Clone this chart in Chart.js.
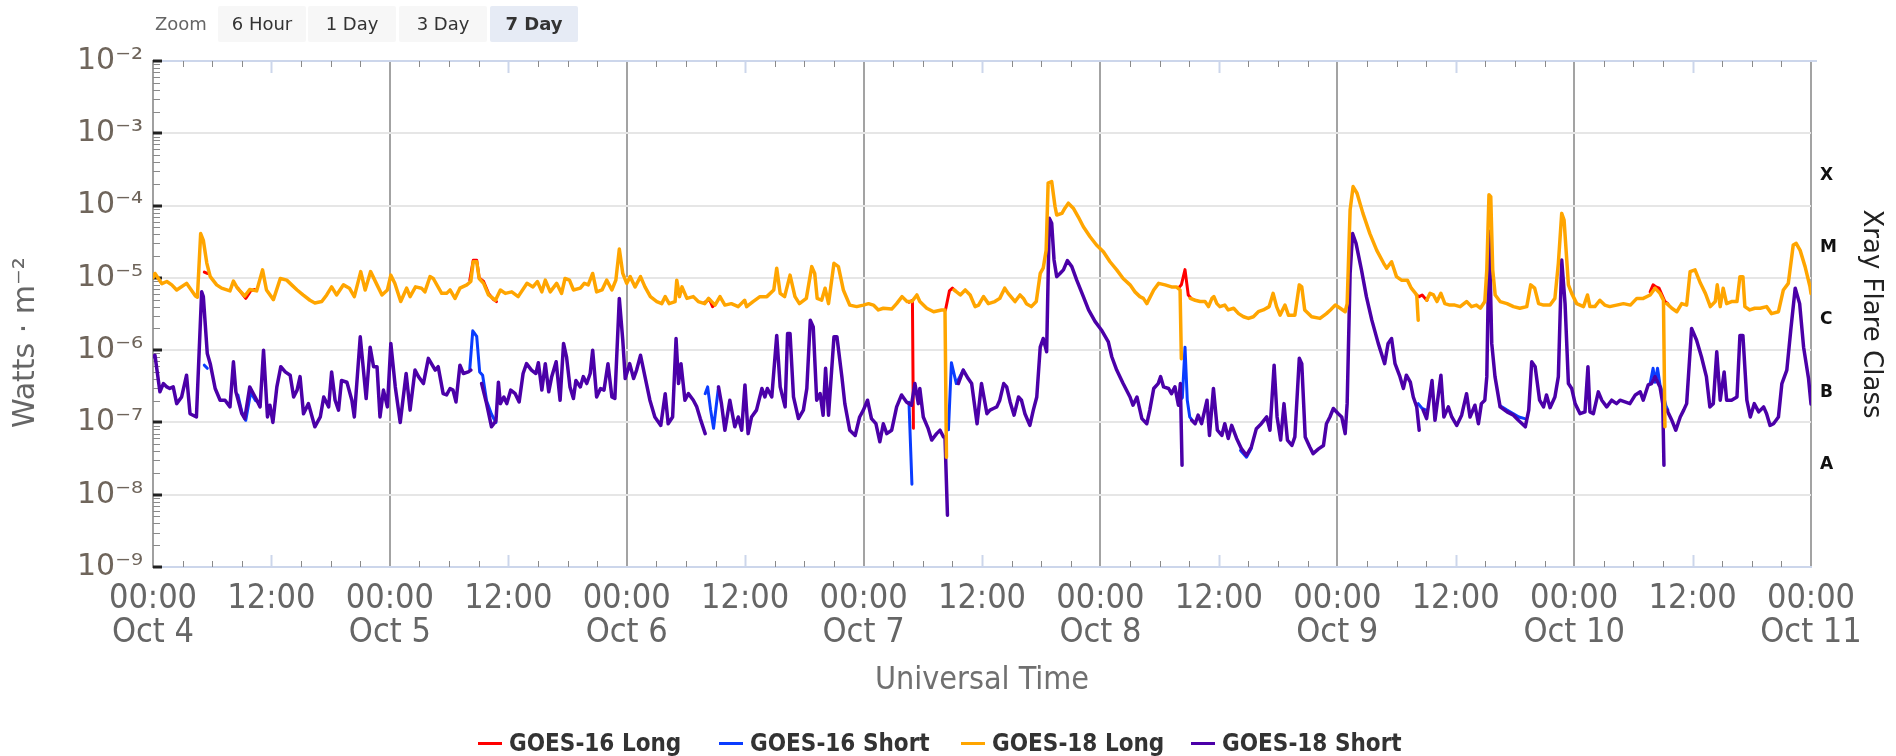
<!DOCTYPE html>
<html>
<head>
<meta charset="utf-8">
<script src="https://cdn.jsdelivr.net/npm/chart.js@4.4.1/dist/chart.umd.min.js"></script>
<style>
html,body{margin:0;padding:0;width:1896px;height:756px;overflow:hidden;background:#fff;}
#wrap{position:absolute;left:0;top:0;width:1896px;height:756px;}
#zoomBar{position:absolute;left:0;top:0;width:700px;height:46px;font-family:'DejaVu Sans',sans-serif;}
#zoomBar .lbl{position:absolute;left:155px;top:6px;height:36px;line-height:36px;font-size:18px;color:#666;}
#zoomBar .btn{position:absolute;top:6px;width:88px;height:36px;line-height:36px;text-align:center;background:#f7f7f7;color:#333;font-size:18px;border-radius:2px;}
#zoomBar .btn.sel{background:#e6ebf5;font-weight:bold;}
#legend{position:absolute;left:0;top:728px;width:1896px;height:30px;font-family:'Liberation Sans Narrow','DejaVu Sans Condensed',sans-serif;font-weight:bold;font-size:24px;color:#333;}
#legend .item{position:absolute;top:0;height:30px;display:flex;align-items:center;white-space:nowrap;}
#legend .sym{display:inline-block;width:24px;height:3px;margin-right:7px;}
</style>
</head>
<body>
<div id="wrap">
<canvas id="c" width="1896" height="756"></canvas>
<div id="zoomBar"></div>
<div id="legend"></div>
</div>
<script>
// ---------- data (hours since Oct 4 00:00 UTC, flux in W/m^2) ----------
const dayLabels = ['Oct 4','Oct 5','Oct 6','Oct 7','Oct 8','Oct 9','Oct 10','Oct 11'];
const zoomButtons = ['6 Hour','1 Day','3 Day','7 Day'];
const selectedZoom = '7 Day';
const flareClasses = ['A','B','C','M','X'];
const flareThresholds = [1e-8,1e-7,1e-6,1e-5,1e-4];
const decadeTicks = [1e-9,1e-8,1e-7,1e-6,1e-5,1e-4,1e-3,1e-2];
const seriesNames = ['GOES-16 Long','GOES-16 Short','GOES-18 Long','GOES-18 Short'];

const goes18Long = [
[0.0,1.0e-5],[0.2,1.15e-5],[0.9,8.3e-6],[1.4,8.9e-6],[1.9,8.0e-6],[2.4,6.8e-6],[3.4,8.4e-6],[4.3,5.6e-6],[4.5,5.4e-6],
[4.83,4.1e-5],[5.1,3.3e-5],[5.45,1.6e-5],[5.8,1.04e-5],[6.45,8.0e-6],[6.95,7.2e-6],[7.8,6.6e-6],[8.15,9.0e-6],[8.55,7.2e-6],
[9.3,5.6e-6],[9.8,6.9e-6],[10.5,6.6e-6],[11.1,1.29e-5],[11.5,6.8e-6],[12.2,5.0e-6],[12.9,9.8e-6],[13.55,9.3e-6],[14.05,8.0e-6],
[14.6,6.8e-6],[15.2,5.8e-6],[15.9,4.9e-6],[16.4,4.5e-6],[17.1,4.7e-6],[17.6,5.8e-6],[18.1,7.5e-6],[18.6,5.8e-6],[19.3,8.0e-6],
[19.9,7.2e-6],[20.4,5.5e-6],[21.05,1.22e-5],[21.5,6.8e-6],[22.05,1.22e-5],[22.7,8.0e-6],[23.2,5.8e-6],[23.75,6.8e-6],[24.1,1.09e-5],
[24.5,8.4e-6],[25.1,4.7e-6],[25.7,7.2e-6],[26.05,5.5e-6],[26.6,7.5e-6],[27.2,7.2e-6],[27.55,6.4e-6],[28.07,1.04e-5],[28.4,9.8e-6],
[29.25,6.1e-6],[29.75,6.1e-6],[30.1,6.8e-6],[30.6,5.2e-6],[31.1,7.2e-6],[31.8,8.0e-6],[32.2,8.9e-6],[32.45,1.67e-5],[32.8,1.67e-5],
[33.05,9.8e-6],[33.5,8.4e-6],[34.0,5.8e-6],[34.7,4.9e-6],[35.2,6.8e-6],[35.7,6.1e-6],[36.35,6.4e-6],[37.0,5.5e-6],[37.9,8.4e-6],
[38.5,7.5e-6],[38.95,8.9e-6],[39.4,6.4e-6],[39.75,9.3e-6],[40.25,6.4e-6],[40.9,8.4e-6],[41.4,6.1e-6],[41.75,9.8e-6],[42.2,9.3e-6],
[42.6,6.8e-6],[43.3,7.2e-6],[43.7,8.4e-6],[44.1,8.0e-6],[44.55,1.15e-5],[44.95,6.4e-6],[45.5,6.8e-6],[45.97,9.3e-6],[46.5,6.8e-6],
[46.9,9.3e-6],[47.25,2.5e-5],[47.6,1.15e-5],[48.0,8.4e-6],[48.35,1.04e-5],[48.85,7.5e-6],[49.4,1.04e-5],[49.85,7.5e-6],[50.4,5.5e-6],
[51.05,4.7e-6],[51.55,4.4e-6],[51.9,5.5e-6],[52.3,4.4e-6],[52.9,4.7e-6],[53.07,9.3e-6],[53.35,5.5e-6],[53.6,7.5e-6],[54.1,5.2e-6],
[54.75,5.5e-6],[55.25,4.7e-6],[55.9,4.4e-6],[56.3,5.2e-6],[56.95,4.2e-6],[57.45,5.5e-6],[57.95,4.2e-6],[58.6,4.4e-6],[59.3,4.0e-6],
[59.95,4.9e-6],[60.15,4.0e-6],[60.8,4.7e-6],[61.5,5.5e-6],[62.2,5.5e-6],[62.9,6.8e-6],[63.2,1.36e-5],[63.55,6.1e-6],[64.0,5.5e-6],
[64.55,1.09e-5],[65.05,5.5e-6],[65.5,4.4e-6],[66.2,5.2e-6],[66.75,1.43e-5],[67.05,1.15e-5],[67.3,5.2e-6],[67.75,4.9e-6],[68.1,7.2e-6],
[68.45,4.4e-6],[69.0,1.59e-5],[69.45,1.43e-5],[69.95,6.8e-6],[70.6,4.2e-6],[71.3,4.0e-6],[71.98,4.2e-6],[72.5,4.4e-6],[73.0,4.2e-6],
[73.5,3.6e-6],[74.0,3.8e-6],[74.85,3.7e-6],[75.35,4.4e-6],[75.9,5.5e-6],[76.4,4.7e-6],[76.9,4.7e-6],[77.4,5.8e-6],[77.7,4.7e-6],
[78.4,3.8e-6],[79.1,3.4e-6],[79.9,3.6e-6],[80.25,3.6e-6],[80.4,3.3e-8],[80.8,null],[81.17,6.8e-6],[81.8,5.8e-6],[82.3,6.8e-6],
[82.8,5.8e-6],[83.3,4.0e-6],[83.65,4.2e-6],[84.15,5.5e-6],[84.65,4.4e-6],[85.3,4.7e-6],[85.8,5.2e-6],[86.3,7.2e-6],[86.65,6.1e-6],
[87.35,4.7e-6],[87.85,5.8e-6],[88.2,5.2e-6],[88.5,4.4e-6],[89.0,4.0e-6],[89.5,4.7e-6],[89.9,1.15e-5],[90.2,1.36e-5],[90.5,2.4e-5],
[90.7,2.04e-4],[91.06,2.15e-4],[91.4,9.7e-5],[91.57,7.4e-5],[92.1,7.8e-5],[92.4,9.2e-5],[92.75,1.08e-4],[93.25,9.2e-5],[93.75,7.0e-5],
[94.27,5.1e-5],[94.95,3.7e-5],[95.6,2.85e-5],[96.3,2.3e-5],[96.97,1.67e-5],[97.65,1.29e-5],[98.3,9.8e-6],[99.0,8.0e-6],[99.5,6.4e-6],
[100.0,5.5e-6],[100.35,5.2e-6],[100.7,4.4e-6],[101.4,6.8e-6],[101.9,8.4e-6],[102.55,8.0e-6],[103.2,7.5e-6],[103.7,7.5e-6],[104.07,6.8e-6],
[104.2,7.6e-7],[104.6,null],[105.1,5.2e-6],[105.6,4.9e-6],[106.1,4.7e-6],[106.6,4.7e-6],[106.95,4.0e-6],[107.3,5.2e-6],[107.5,5.5e-6],
[107.8,4.4e-6],[108.1,4.0e-6],[108.6,4.2e-6],[108.95,3.6e-6],[109.5,3.8e-6],[110.0,3.2e-6],[110.5,2.9e-6],[111.0,2.75e-6],[111.5,2.9e-6],
[112.0,3.4e-6],[112.5,3.6e-6],[113.1,4.0e-6],[113.5,6.1e-6],[113.85,4.0e-6],[114.2,3.05e-6],[114.7,4.2e-6],[115.05,3.05e-6],[115.7,3.05e-6],
[116.15,8.0e-6],[116.4,7.5e-6],[116.7,3.6e-6],[117.4,2.9e-6],[118.25,2.75e-6],[118.9,3.2e-6],[119.3,3.6e-6],[119.8,4.2e-6],[120.3,3.8e-6],
[120.8,3.4e-6],[121.0,4.4e-6],[121.3,8.7e-5],[121.6,1.83e-4],[122.0,1.48e-4],[122.6,7.8e-5],[123.3,4.1e-5],[124.0,2.4e-5],[124.7,1.59e-5],
[125.0,1.36e-5],[125.5,1.67e-5],[126.0,1.04e-5],[126.5,9.3e-6],[127.1,9.3e-6],[127.5,7.2e-6],[128.05,5.8e-6],[128.2,2.6e-6],[128.6,null],
[129.05,4.9e-6],[129.4,6.1e-6],[129.75,5.8e-6],[130.1,4.7e-6],[130.5,6.1e-6],[130.9,4.4e-6],[131.4,4.2e-6],[131.9,4.2e-6],[132.45,4.0e-6],
[133.1,4.7e-6],[133.6,4.0e-6],[134.1,4.2e-6],[134.5,3.8e-6],[134.95,4.7e-6],[135.15,1.29e-5],[135.37,1.41e-4],[135.55,1.33e-4],[135.75,1.29e-5],
[136.0,5.8e-6],[136.5,4.7e-6],[137.2,4.4e-6],[137.85,4.0e-6],[138.5,3.8e-6],[139.2,4.0e-6],[139.6,8.0e-6],[140.0,7.2e-6],[140.4,4.4e-6],
[140.9,4.2e-6],[141.56,4.2e-6],[142.05,5.2e-6],[142.4,1.59e-5],[142.74,7.8e-5],[142.98,6.3e-5],[143.42,8.0e-6],[143.75,6.1e-6],[144.26,4.4e-6],
[144.95,4.0e-6],[145.35,5.8e-6],[145.6,4.0e-6],[146.1,4.0e-6],[146.6,4.9e-6],[147.1,4.2e-6],[147.6,4.0e-6],[148.3,4.2e-6],[149.0,4.4e-6],
[149.7,4.2e-6],[150.35,5.2e-6],[151.0,5.2e-6],[151.7,5.8e-6],[152.2,7.2e-6],[152.7,6.1e-6],[153.05,4.9e-6],[153.2,8.7e-8],[153.3,null],
[153.4,4.4e-6],[153.9,3.8e-6],[154.4,3.4e-6],[154.9,4.4e-6],[155.4,4.2e-6],[155.75,1.22e-5],[156.25,1.29e-5],[156.8,8.4e-6],[157.3,6.1e-6],
[157.8,4.0e-6],[158.3,4.7e-6],[158.5,8.0e-6],[158.8,4.0e-6],[159.1,7.2e-6],[159.45,4.4e-6],[159.95,4.7e-6],[160.5,4.7e-6],[160.8,1.04e-5],
[161.1,1.04e-5],[161.3,4.0e-6],[161.8,3.6e-6],[162.3,3.8e-6],[162.85,3.8e-6],[163.5,4.0e-6],[164.0,3.2e-6],[164.7,3.4e-6],[165.2,6.8e-6],
[165.7,8.4e-6],[166.2,2.85e-5],[166.5,3.0e-5],[166.9,2.4e-5],[167.4,1.43e-5],[167.9,7.5e-6],[168.0,6.1e-6]
];

const goes18Short = [
[0.0,8.1e-7],[0.2,8.5e-7],[0.7,2.65e-7],[1.05,3.45e-7],[1.4,3.1e-7],[1.7,2.95e-7],[2.05,3.1e-7],[2.4,1.82e-7],[2.9,2.25e-7],
[3.4,4.5e-7],[3.75,1.32e-7],[4.4,1.19e-7],[4.93,6.4e-6],[5.1,5.5e-6],[5.5,9.0e-7],[5.8,6.5e-7],[6.3,2.95e-7],[6.8,2.03e-7],
[7.3,2.03e-7],[7.8,1.64e-7],[8.15,6.9e-7],[8.4,2.65e-7],[9.0,1.32e-7],[9.3,1.13e-7],[9.8,3.1e-7],[10.35,2.25e-7],[10.85,1.64e-7],
[11.2,1.0e-6],[11.6,1.19e-7],[11.85,1.73e-7],[12.15,1.0e-7],[12.55,3.1e-7],[12.95,5.9e-7],[13.4,5.0e-7],[13.9,4.5e-7],[14.25,2.25e-7],
[14.6,2.8e-7],[14.9,4.3e-7],[15.25,1.32e-7],[15.75,1.82e-7],[16.4,8.7e-8],[16.95,1.19e-7],[17.3,2.25e-7],[17.8,1.64e-7],[18.1,5.0e-7],
[18.45,2.03e-7],[18.8,1.48e-7],[19.1,3.8e-7],[19.65,3.6e-7],[20.15,2.03e-7],[20.4,1.19e-7],[21.0,1.53e-6],[21.6,2.14e-7],[22.0,1.1e-6],
[22.35,5.9e-7],[22.7,5.9e-7],[23.0,1.19e-7],[23.35,2.8e-7],[23.75,1.64e-7],[24.1,1.24e-6],[24.55,3.1e-7],[25.05,1.0e-7],[25.65,4.75e-7],
[26.05,1.48e-7],[26.55,5.3e-7],[26.9,4.3e-7],[27.4,3.45e-7],[27.9,7.7e-7],[28.6,5.3e-7],[28.9,5.9e-7],[29.4,2.5e-7],[29.75,2.4e-7],
[30.1,2.95e-7],[30.4,2.8e-7],[30.7,1.92e-7],[31.1,6.2e-7],[31.45,4.75e-7],[31.95,5.0e-7],[32.2,5.3e-7],[32.7,null],[33.3,3.45e-7],
[33.8,1.82e-7],[34.3,8.7e-8],[34.75,1.05e-7],[35.0,3.6e-7],[35.2,1.82e-7],[35.55,2.25e-7],[35.85,1.82e-7],[36.25,2.8e-7],[36.7,2.5e-7],
[37.1,1.92e-7],[37.5,4.75e-7],[37.85,6.5e-7],[38.35,5.3e-7],[38.8,4.75e-7],[39.05,6.7e-7],[39.4,2.8e-7],[39.75,6.5e-7],[40.1,2.65e-7],
[40.4,4.3e-7],[40.85,6.9e-7],[41.25,2.03e-7],[41.6,1.24e-6],[41.9,8.1e-7],[42.25,3.1e-7],[42.6,2.14e-7],[42.85,3.8e-7],[43.3,3.1e-7],
[43.6,4.3e-7],[43.95,3.45e-7],[44.3,4.75e-7],[44.55,1.0e-6],[44.95,2.25e-7],[45.35,2.95e-7],[45.7,2.8e-7],[46.1,6.5e-7],[46.5,2.25e-7],
[46.8,2.14e-7],[47.25,5.2e-6],[47.6,1.38e-6],[47.85,4.05e-7],[48.3,6.5e-7],[48.7,4.05e-7],[49.0,5.3e-7],[49.4,8.5e-7],[49.85,4.3e-7],
[50.35,2.03e-7],[50.85,1.19e-7],[51.45,9.1e-8],[51.9,2.5e-7],[52.2,9.6e-8],[52.65,1.19e-7],[53.0,1.45e-6],[53.25,3.45e-7],[53.5,6.5e-7],
[53.9,2.03e-7],[54.25,2.5e-7],[54.75,2.03e-7],[55.1,1.64e-7],[55.45,1.13e-7],[55.95,7.0e-8],[56.6,null],[57.3,3.1e-7],[57.6,1.82e-7],
[57.95,7.8e-8],[58.45,2.03e-7],[58.95,8.7e-8],[59.3,1.19e-7],[59.65,7.8e-8],[59.98,3.3e-7],[60.3,7.0e-8],[60.65,1.19e-7],[61.15,1.48e-7],
[61.7,2.95e-7],[62.0,2.25e-7],[62.25,2.95e-7],[62.7,2.25e-7],[63.2,1.6e-6],[63.55,3.1e-7],[64.05,1.64e-7],[64.3,1.7e-6],[64.55,1.7e-6],
[64.9,2.25e-7],[65.4,1.13e-7],[65.9,1.48e-7],[66.25,2.95e-7],[66.6,2.6e-6],[66.9,2.1e-6],[67.25,2.03e-7],[67.6,2.5e-7],[67.9,1.26e-7],
[68.15,5.6e-7],[68.45,1.26e-7],[69.0,1.53e-6],[69.3,1.53e-6],[69.8,4.3e-7],[70.1,1.82e-7],[70.6,7.8e-8],[71.15,6.6e-8],[71.6,1.19e-7],
[71.98,1.48e-7],[72.4,2.03e-7],[72.8,1.13e-7],[73.25,9.6e-8],[73.65,5.4e-8],[74.0,9.6e-8],[74.35,7.0e-8],[74.85,7.8e-8],[75.35,1.64e-7],
[75.85,2.4e-7],[76.35,1.92e-7],[76.85,1.73e-7],[77.2,3.45e-7],[77.55,1.82e-7],[77.7,2.95e-7],[78.05,1.19e-7],[78.55,8.2e-8],[78.9,5.7e-8],
[79.4,7.0e-8],[79.75,7.8e-8],[80.1,6.3e-8],[80.25,6.3e-8],[80.5,5.2e-9],[81.0,null],[81.6,3.45e-7],[82.1,5.3e-7],[82.6,4.05e-7],
[82.95,3.45e-7],[83.5,9.6e-8],[83.95,3.45e-7],[84.5,1.32e-7],[84.81,1.48e-7],[85.15,1.56e-7],[85.5,1.64e-7],[85.8,2.03e-7],[86.2,3.45e-7],
[86.5,3.1e-7],[86.85,1.92e-7],[87.25,1.26e-7],[87.7,2.25e-7],[88.0,2.03e-7],[88.35,1.32e-7],[88.85,9.1e-8],[89.2,1.48e-7],[89.55,2.25e-7],
[89.9,1.1e-6],[90.2,1.45e-6],[90.55,9.5e-7],[90.82,6.7e-5],[91.06,5.7e-5],[91.3,1.77e-5],[91.57,1.04e-5],[91.9,1.15e-5],[92.25,1.29e-5],
[92.65,1.73e-5],[93.1,1.43e-5],[93.6,9.3e-6],[94.27,5.5e-6],[94.8,3.6e-6],[95.45,2.5e-6],[96.1,1.9e-6],[96.8,1.3e-6],[97.15,8.1e-7],
[97.65,5.3e-7],[98.3,3.45e-7],[99.0,2.25e-7],[99.3,1.73e-7],[99.7,2.25e-7],[100.2,1.13e-7],[100.7,9.6e-8],[101.0,1.48e-7],[101.4,2.95e-7],
[101.85,3.45e-7],[102.1,4.3e-7],[102.4,3.1e-7],[102.9,2.95e-7],[103.2,2.5e-7],[103.55,3.1e-7],[103.9,1.73e-7],[104.1,3.45e-7],[104.27,2.55e-8],
[104.7,null],[105.25,1.07e-7],[105.6,9.6e-8],[105.9,1.26e-7],[106.25,9.6e-8],[106.8,2.03e-7],[107.05,6.6e-8],[107.45,2.95e-7],[107.85,7.8e-8],
[108.3,6.6e-8],[108.6,9.6e-8],[108.95,6.0e-8],[109.3,9.1e-8],[109.8,6.0e-8],[110.3,4.3e-8],[110.8,3.5e-8],[111.3,4.6e-8],[111.8,8.2e-8],
[112.3,9.6e-8],[112.85,1.19e-7],[113.18,7.8e-8],[113.6,6.2e-7],[113.9,1.19e-7],[114.26,5.7e-8],[114.6,1.82e-7],[114.95,5.7e-8],[115.4,4.8e-8],
[115.7,6.3e-8],[116.15,7.7e-7],[116.4,6.5e-7],[116.75,6.3e-8],[117.2,4.6e-8],[117.55,3.7e-8],[118.1,4.3e-8],[118.6,4.8e-8],[118.9,9.6e-8],
[119.25,1.19e-7],[119.6,1.56e-7],[120.1,1.32e-7],[120.45,1.19e-7],[120.8,7.0e-8],[121.0,1.82e-7],[121.3,1.15e-5],[121.55,4.1e-5],[121.9,3.0e-5],
[122.45,1.29e-5],[122.95,5.5e-6],[123.5,2.6e-6],[124.15,1.24e-6],[124.8,6.5e-7],[125.15,1.24e-6],[125.5,1.45e-6],[125.85,6.5e-7],[126.35,4.3e-7],
[126.7,2.95e-7],[127.0,4.5e-7],[127.4,3.6e-7],[127.7,2.25e-7],[128.05,1.64e-7],[128.3,7.8e-8],[128.5,null],[128.7,1.48e-7],[129.05,1.13e-7],
[129.6,3.8e-7],[129.9,1.07e-7],[130.5,4.5e-7],[130.8,1.19e-7],[131.25,1.64e-7],[131.6,1.19e-7],[132.1,9.1e-8],[132.6,1.26e-7],[133.1,2.5e-7],
[133.45,1.19e-7],[133.95,1.73e-7],[134.3,9.6e-8],[134.6,1.82e-7],[134.95,2.03e-7],[135.15,4.3e-7],[135.4,4.4e-5],[135.65,1.24e-6],[135.98,4.3e-7],
[136.5,1.64e-7],[137.2,1.4e-7],[137.85,1.26e-7],[138.35,1.07e-7],[139.05,8.7e-8],[139.4,1.48e-7],[139.7,6.9e-7],[140.05,5.9e-7],[140.5,2.03e-7],
[140.9,1.64e-7],[141.2,2.4e-7],[141.56,1.6e-7],[142.05,2.25e-7],[142.4,4.3e-7],[142.74,1.77e-5],[143.08,4.4e-6],[143.42,3.45e-7],[143.75,2.95e-7],
[144.1,1.82e-7],[144.6,1.32e-7],[145.1,1.4e-7],[145.4,5.9e-7],[145.6,1.4e-7],[145.95,1.32e-7],[146.45,2.65e-7],[146.8,2.03e-7],[147.3,1.64e-7],
[147.8,2.03e-7],[148.3,1.82e-7],[148.65,2.03e-7],[149.15,1.92e-7],[149.65,1.82e-7],[150.2,2.4e-7],[150.7,2.65e-7],[151.0,2.03e-7],[151.5,3.3e-7],
[151.85,3.45e-7],[152.2,4.3e-7],[152.7,3.1e-7],[152.98,1.82e-7],[153.1,2.55e-8],[153.25,null],[153.4,1.48e-7],[153.9,1.07e-7],[154.3,7.8e-8],
[154.75,1.19e-7],[155.1,1.48e-7],[155.4,1.82e-7],[155.9,2.0e-6],[156.4,1.38e-6],[156.9,8.1e-7],[157.4,4.3e-7],[157.75,1.64e-7],[158.1,1.82e-7],
[158.45,9.5e-7],[158.8,2.03e-7],[159.2,5.0e-7],[159.45,2.03e-7],[159.95,2.03e-7],[160.5,2.25e-7],[160.8,1.6e-6],[161.1,1.6e-6],[161.5,2.03e-7],
[161.85,1.19e-7],[162.25,1.82e-7],[162.7,1.4e-7],[163.2,1.64e-7],[163.5,1.32e-7],[163.85,9.1e-8],[164.2,9.6e-8],[164.7,1.19e-7],[165.05,3.45e-7],
[165.55,5.3e-7],[165.95,1.9e-6],[166.4,7.2e-6],[166.85,4.4e-6],[167.25,1.1e-6],[167.75,4.05e-7],[168.0,1.8e-7]
];

// GOES-16 is drawn beneath GOES-18; only the stretches where it shows are listed
const goes16Long = [
[5.2,1.2e-5],[5.5,1.15e-5],[5.7,null],
[8.6,7.2e-6],[9.0,6.1e-6],[9.4,5.2e-6],[9.9,6.6e-6],[10.3,6.9e-6],[10.4,null],
[32.1,9.3e-6],[32.45,1.75e-5],[32.8,1.75e-5],[33.05,1.0e-5],[33.5,8.9e-6],[34.0,6.1e-6],[34.5,5.0e-6],[34.8,4.7e-6],[35.0,null],
[55.9,4.6e-6],[56.4,5.0e-6],[56.7,4.0e-6],[57.0,4.4e-6],[57.2,null],
[76.6,4.6e-6],[76.95,4.9e-6],[77.05,8.3e-8],[78.0,null],[80.3,3.6e-6],[80.7,6.6e-6],[81.0,7.2e-6],[81.3,6.6e-6],[81.5,null],
[103.9,7.2e-6],[104.2,8.0e-6],[104.57,1.3e-5],[104.9,5.8e-6],[105.2,5.2e-6],[105.4,null],
[128.0,5.8e-6],[128.3,5.5e-6],[128.6,5.8e-6],[128.9,5.2e-6],[129.1,4.9e-6],[129.3,null],
[151.7,6.4e-6],[152.0,8.0e-6],[152.3,7.5e-6],[152.6,7.2e-6],[152.9,5.8e-6],[153.2,4.7e-6],[153.5,4.4e-6]
];
const goes16Short = [
[5.2,6.2e-7],[5.5,5.6e-7],[5.7,null],
[8.6,2.4e-7],[9.0,1.4e-7],[9.4,1.07e-7],[9.9,2.6e-7],[10.4,2.0e-7],[10.6,null],
[32.1,5.5e-7],[32.4,1.85e-6],[32.8,1.55e-6],[33.1,5.0e-7],[33.4,4.5e-7],[33.8,2.0e-7],[34.3,1.3e-7],[34.75,1.0e-7],[35.0,null],
[55.95,2.5e-7],[56.2,3.1e-7],[56.5,1.5e-7],[56.8,8.3e-8],[57.3,3.1e-7],[57.5,null],
[76.6,1.9e-7],[76.9,1.4e-8],[78.0,null],[80.6,7.9e-8],[80.9,6.7e-7],[81.4,3.45e-7],[82.1,5.3e-7],[82.3,null],
[104.0,2.0e-7],[104.3,2.2e-7],[104.57,1.1e-6],[104.8,2.03e-7],[105.05,1.19e-7],[105.3,1.07e-7],[105.5,null],
[110.2,4.1e-8],[110.8,3.3e-8],[111.3,4.4e-8],[111.5,null],
[128.2,1.82e-7],[128.6,1.56e-7],[129.0,1.48e-7],[129.2,null],
[136.5,1.7e-7],[137.2,1.48e-7],[137.85,1.32e-7],[138.4,1.19e-7],[139.0,1.13e-7],[139.2,null],
[151.7,3.45e-7],[152.0,5.6e-7],[152.2,3.6e-7],[152.45,5.6e-7],[152.7,3.3e-7],[153.0,2.5e-7],[153.3,1.7e-7],[153.5,1.48e-7]
];

// ---------- styling ----------
const seriesColors = ['#ff0000','#0a3cff','#ffa500','#4b00a8'];
const seriesWidths = [3, 3, 3.5, 3.5];
const narrowFont = "'Liberation Sans Narrow','DejaVu Sans Condensed','DejaVu Sans',sans-serif";
const supMap = {'-':'\u207B','0':'\u2070','1':'\u00B9','2':'\u00B2','3':'\u00B3','4':'\u2074','5':'\u2075','6':'\u2076','7':'\u2077','8':'\u2078','9':'\u2079'};
function sup(n){ return String(n).split('').map(c => supMap[c]).join(''); }
function toPoints(arr){ return arr.map(([h,v]) => ({x:h, y:v})); }

// zoom bar + legend (HTML text)
const btnLefts = [218, 308, 399, 490];
document.getElementById('zoomBar').innerHTML = '<span class="lbl">Zoom</span>' +
  zoomButtons.map((b,i) => '<span class="btn' + (b===selectedZoom?' sel':'') + '" style="left:' + btnLefts[i] + 'px">' + b + '</span>').join('');
const legendLefts = [478, 719, 961, 1191];
document.getElementById('legend').innerHTML = seriesNames.map((n,i) =>
  '<span class="item" style="left:' + legendLefts[i] + 'px"><span class="sym" style="background:' + seriesColors[i] + '"></span>' + n + '</span>').join('');

const axisDecor = {
  id: 'axisDecor',
  beforeDatasetsDraw(chart) {
    const {ctx, chartArea: a, scales: {x, y}} = chart;
    ctx.save();
    // top frame line
    ctx.strokeStyle = '#ccd6eb'; ctx.lineWidth = 2;
    ctx.beginPath(); ctx.moveTo(a.left, a.top); ctx.lineTo(a.right + 6, a.top); ctx.stroke();
    // x ticks (inside, top and bottom)
    for (let h = x.min; h <= x.max; h += 3) {
      if (h % 24 === 0) continue;
      const px = Math.round(x.getPixelForValue(h)) + 0.5;
      let len;
      if (h % 12 === 0) { ctx.strokeStyle = '#ccd6eb'; ctx.lineWidth = 2; len = 12; }
      else { ctx.strokeStyle = '#8a8a8a'; ctx.lineWidth = 1; len = 6; }
      ctx.beginPath(); ctx.moveTo(px, a.top); ctx.lineTo(px, a.top + len); ctx.stroke();
      ctx.beginPath(); ctx.moveTo(px, a.bottom); ctx.lineTo(px, a.bottom - len); ctx.stroke();
    }
    // y minor ticks (inside)
    ctx.strokeStyle = '#8a8a8a'; ctx.lineWidth = 1;
    for (let e = -9; e < -2; e++) {
      for (let k = 2; k <= 9; k++) {
        const py = Math.round(y.getPixelForValue(k * Math.pow(10, e))) + 0.5;
        ctx.beginPath(); ctx.moveTo(a.left, py); ctx.lineTo(a.left + 7, py); ctx.stroke();
      }
    }
    // y major ticks
    ctx.strokeStyle = '#222'; ctx.lineWidth = 3;
    decadeTicks.forEach(v => {
      const py = Math.round(y.getPixelForValue(v));
      ctx.beginPath(); ctx.moveTo(a.left, py); ctx.lineTo(a.left + 9, py); ctx.stroke();
    });
    ctx.restore();
  }
};

const lineDefaults = {pointRadius: 0, tension: 0, spanGaps: false, borderJoinStyle: 'round', borderCapStyle: 'round', fill: false};
const seriesData = [goes16Long, goes16Short, goes18Long, goes18Short];
const seriesOrder = [1, 1, 0, 0];

new Chart(document.getElementById('c'), {
  type: 'line',
  data: {
    datasets: seriesData.map((d, i) => Object.assign({
      label: seriesNames[i], data: toPoints(d), borderColor: seriesColors[i],
      borderWidth: seriesWidths[i], order: seriesOrder[i]
    }, lineDefaults))
  },
  options: {
    responsive: false,
    animation: false,
    events: [],
    layout: {padding: {top: 61, left: 0, right: 0, bottom: 0}},
    plugins: {legend: {display: false}, tooltip: {enabled: false}},
    scales: {
      x: {
        type: 'linear', min: 0, max: 168,
        afterFit: s => { s.height = 189; },
        ticks: {
          stepSize: 12, autoSkip: false, maxRotation: 0, padding: 15, color: '#666',
          font: {family: narrowFont, size: 34, lineHeight: 1.0},
          callback: v => (v % 24 === 0 ? ['00:00', dayLabels[v / 24]] : '12:00')
        },
        grid: {drawTicks: false, lineWidth: 2, color: c => (c.tick && c.tick.value % 24 === 0 ? '#a3a3a3' : 'rgba(0,0,0,0)')},
        border: {display: true, color: '#ccd6eb', width: 2},
        title: {display: true, text: 'Universal Time', color: '#707070', font: {family: narrowFont, size: 32}, padding: {top: 0, bottom: 56}}
      },
      y: {
        type: 'logarithmic', min: 1e-9, max: 1e-2, position: 'left',
        afterFit: s => { s.width = 153; },
        afterBuildTicks: s => { s.ticks = decadeTicks.map(v => ({value: v})); },
        ticks: {
          padding: 10, color: '#6f655b',
          font: {family: "'DejaVu Sans',sans-serif", size: 30},
          callback: v => '10' + sup(Math.round(Math.log10(v)))
        },
        grid: {drawTicks: false, color: '#e6e6e6', lineWidth: 2},
        border: {display: true, color: '#a0a0a0', width: 2},
        title: {display: true, text: 'Watts \u00B7 m\u207B\u00B2\u00A0\u00A0\u00A0\u00A0\u00A0\u00A0', color: '#666', font: {family: "'DejaVu Sans',sans-serif", size: 30}, padding: {top: 8, bottom: 0}}
      },
      flare: {
        type: 'logarithmic', min: 1e-9, max: 1e-2, position: 'right',
        afterFit: s => { s.width = 85; },
        afterBuildTicks: s => { s.ticks = flareThresholds.map(t => ({value: t * Math.sqrt(10)})); },
        ticks: {
          padding: 9, color: '#111', labelOffset: 6,
          font: {family: "'DejaVu Sans',sans-serif", size: 17, weight: 'bold'},
          callback: (v, i) => flareClasses[i]
        },
        grid: {display: false, drawTicks: false},
        border: {display: false},
        title: {display: true, text: 'Xray Flare Class', color: '#222', font: {family: "'DejaVu Sans',sans-serif", size: 26}, padding: {top: 10, bottom: 0}}
      }
    }
  },
  plugins: [axisDecor]
});
</script>
</body>
</html>
